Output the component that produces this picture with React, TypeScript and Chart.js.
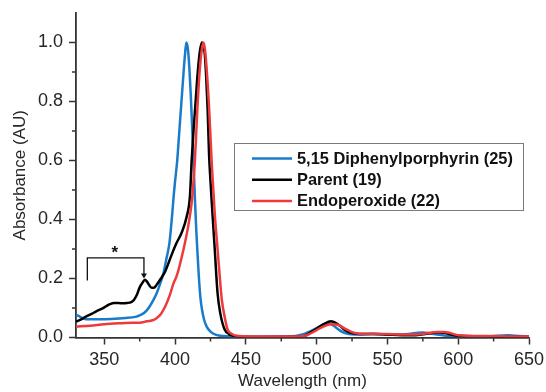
import React, { useEffect, useRef } from "react";
import { Chart, registerables } from "chart.js";

Chart.register(...registerables);

// ---- Data ----
const seriesNames = ["5,15 Diphenylporphyrin (25)", "Parent (19)", "Endoperoxide (22)"];

const dppX = [330, 333, 337, 345, 355, 365, 372, 375, 378, 380, 382, 385, 387, 390, 392, 394, 396, 398, 399, 400, 401.5, 403, 404.5, 406, 407, 408, 409, 410, 411, 412, 413, 414, 415, 416, 417, 418, 419, 420.5, 422.3, 425, 429, 435, 440, 450, 480, 490, 495, 500, 505, 508, 512, 516, 520, 530, 540, 550, 560, 570, 575, 580, 585, 590, 600, 620, 635, 640, 650];
const dppY = [0.077, 0.07, 0.062, 0.062, 0.063, 0.066, 0.07, 0.075, 0.083, 0.092, 0.105, 0.13, 0.15, 0.19, 0.222, 0.27, 0.32, 0.42, 0.48, 0.53, 0.6, 0.7, 0.8, 0.9, 0.96, 1.0, 0.98, 0.92, 0.83, 0.72, 0.6, 0.47, 0.36, 0.27, 0.19, 0.13, 0.095, 0.06, 0.037, 0.02, 0.009, 0.005, 0.004, 0.002, 0.003, 0.01, 0.02, 0.032, 0.045, 0.049, 0.04, 0.025, 0.015, 0.01, 0.012, 0.01, 0.01, 0.015, 0.017, 0.014, 0.01, 0.007, 0.005, 0.004, 0.008, 0.006, 0.003];

const parentX = [330, 334, 337, 341, 344, 348, 351, 354, 357, 360, 363, 366, 369, 371, 373, 375, 377, 378.7, 380, 383.4, 385, 387, 390, 393, 397.6, 401, 404.6, 408.2, 410.5, 411.7, 413, 414.5, 416, 417.5, 419, 420, 421, 422, 423, 424, 425, 426, 428, 430, 432, 435, 438, 440, 445, 460, 490, 495, 500, 505, 510, 515, 520, 525, 530, 540, 550, 560, 570, 580, 585, 590, 595, 600, 620, 650];
const parentY = [0.054, 0.062, 0.071, 0.08, 0.088, 0.097, 0.105, 0.113, 0.117, 0.117, 0.116, 0.117, 0.12, 0.128, 0.145, 0.17, 0.186, 0.196, 0.19, 0.169, 0.169, 0.179, 0.2, 0.224, 0.281, 0.32, 0.355, 0.41, 0.48, 0.6, 0.7, 0.8, 0.9, 0.97, 1.0, 0.99, 0.96, 0.88, 0.77, 0.62, 0.53, 0.45, 0.3, 0.15, 0.08, 0.027, 0.012, 0.007, 0.003, 0.002, 0.003, 0.015, 0.03, 0.045, 0.055, 0.045, 0.025, 0.015, 0.012, 0.012, 0.01, 0.008, 0.008, 0.014, 0.017, 0.016, 0.01, 0.006, 0.004, 0.002];

const endoX = [330, 340, 350, 360, 370, 375, 380, 385, 388, 390, 393, 396, 399, 401, 403, 406, 409, 411, 412, 413, 414, 415, 416, 417, 418, 419, 420, 421, 422, 424, 426, 428, 430, 432, 433, 435, 437, 440, 445, 460, 490, 495, 500, 505, 510, 515, 520, 525, 530, 540, 550, 560, 570, 580, 585, 590, 595, 600, 620, 650];
const endoY = [0.037, 0.04, 0.045, 0.048, 0.05, 0.05, 0.055, 0.06, 0.07, 0.08, 0.105, 0.14, 0.185, 0.207, 0.24, 0.3, 0.37, 0.43, 0.47, 0.53, 0.6, 0.7, 0.8, 0.88, 0.94, 0.98, 1.0, 0.98, 0.93, 0.78, 0.58, 0.42, 0.3, 0.18, 0.128, 0.07, 0.028, 0.012, 0.005, 0.003, 0.004, 0.012, 0.025, 0.038, 0.045, 0.043, 0.03, 0.018, 0.013, 0.013, 0.012, 0.01, 0.01, 0.016, 0.019, 0.019, 0.014, 0.008, 0.005, 0.003];

const xTicks = [350, 400, 450, 500, 550, 600, 650];
const xMinorTicks = [375, 425, 475, 525, 575, 625];
const yTicks = [0, 0.2, 0.4, 0.6, 0.8, 1.0];
const yMinorTicks = [0.1, 0.3, 0.5, 0.7, 0.9];

// annotation (bracket) anchored in data space
const bracketX = [338, 378];
const bracketTopY = 0.27;
const bracketLeftBottomY = 0.193;
const bracketArrowY = 0.2;
const asteriskPos = [357.5, 0.3];

const colors = ["#1b7bcb", "#000000", "#ee3a3a"];
const FONT = "'Liberation Sans', Arial, Helvetica, sans-serif";
const AXIS_COLOR = "#333333";

function toPoints(xs: number[], ys: number[]) {
  return xs.map((x, i) => ({ x, y: ys[i] }));
}

const extrasPlugin = {
  id: "extras",
  afterDatasetsDraw(chart: any) {
    const { ctx } = chart;
    const xs = chart.scales.x;
    const ys = chart.scales.y;
    ctx.save();
    // bracket
    const xl = xs.getPixelForValue(bracketX[0]);
    const xr = xs.getPixelForValue(bracketX[1]);
    const yt = ys.getPixelForValue(bracketTopY);
    const ylb = ys.getPixelForValue(bracketLeftBottomY);
    const ya = ys.getPixelForValue(bracketArrowY);
    ctx.strokeStyle = "#111";
    ctx.lineWidth = 1.3;
    ctx.beginPath();
    ctx.moveTo(xl, ylb);
    ctx.lineTo(xl, yt);
    ctx.lineTo(xr, yt);
    ctx.lineTo(xr, ya - 3);
    ctx.stroke();
    ctx.fillStyle = "#111";
    ctx.beginPath();
    ctx.moveTo(xr - 3, ya - 5);
    ctx.lineTo(xr + 3, ya - 5);
    ctx.lineTo(xr, ya);
    ctx.closePath();
    ctx.fill();
    // asterisk
    ctx.font = `bold 17px ${FONT}`;
    ctx.textAlign = "center";
    ctx.textBaseline = "middle";
    ctx.fillText("*", xs.getPixelForValue(asteriskPos[0]), ys.getPixelForValue(asteriskPos[1]) + 4);

    // minor ticks
    ctx.strokeStyle = AXIS_COLOR;
    ctx.lineWidth = 1.5;
    const area = chart.chartArea;
    ctx.beginPath();
    xMinorTicks.forEach((v) => {
      const px = xs.getPixelForValue(v);
      ctx.moveTo(px, area.bottom);
      ctx.lineTo(px, area.bottom + 4);
    });
    yMinorTicks.forEach((v) => {
      const py = ys.getPixelForValue(v);
      ctx.moveTo(area.left, py);
      ctx.lineTo(area.left - 4, py);
    });
    ctx.stroke();
    ctx.restore();
  },
  afterDraw(chart: any) {
    const { ctx } = chart;
    const area = chart.chartArea;
    ctx.save();
    const bx = area.left + 158;
    const by = area.top + 130;
    const bw = 289;
    const bh = 67;
    ctx.fillStyle = "#ffffff";
    ctx.fillRect(bx, by, bw, bh);
    ctx.strokeStyle = "#7a7a7a";
    ctx.lineWidth = 1;
    ctx.strokeRect(bx + 0.5, by + 0.5, bw, bh);
    ctx.font = `bold 16.4px ${FONT}`;
    ctx.textAlign = "left";
    ctx.textBaseline = "middle";
    seriesNames.forEach((name, i) => {
      const cy = by + 15.5 + i * 21.2;
      ctx.strokeStyle = colors[i];
      ctx.lineWidth = 2.5;
      ctx.beginPath();
      ctx.moveTo(bx + 18, cy);
      ctx.lineTo(bx + 58, cy);
      ctx.stroke();
      ctx.fillStyle = "#111";
      ctx.fillText(name, bx + 63, cy + 1);
    });
    ctx.restore();
  },
};

export default function App() {
  const canvasRef = useRef<HTMLCanvasElement | null>(null);

  useEffect(() => {
    document.body.style.margin = "0";
    const canvas = canvasRef.current;
    if (!canvas) return;
    const datasets = [
      { label: seriesNames[0], data: toPoints(dppX, dppY), borderColor: colors[0], order: 2 },
      { label: seriesNames[1], data: toPoints(parentX, parentY), borderColor: colors[1], order: 1 },
      { label: seriesNames[2], data: toPoints(endoX, endoY), borderColor: colors[2], order: 0 },
    ].map((d) => ({
      ...d,
      borderWidth: 2.5,
      pointRadius: 0,
      fill: false,
      cubicInterpolationMode: "monotone" as const,
    }));

    const chart = new Chart(canvas, {
      type: "line",
      data: { datasets },
      plugins: [extrasPlugin],
      options: {
        responsive: false,
        animation: false,
        layout: { padding: { left: 0, right: 17, top: 13, bottom: 0 } },
        plugins: { legend: { display: false }, tooltip: { enabled: false } },
        scales: {
          x: {
            type: "linear",
            min: 330,
            max: 650,
            afterBuildTicks: (scale: any) => {
              scale.ticks = xTicks.map((v) => ({ value: v }));
            },
            afterFit: (scale: any) => {
              scale.height = 54.5;
              scale.paddingLeft = 0;
              scale.paddingRight = 0;
            },
            ticks: {
              font: { family: FONT, size: 18 },
              color: "#262626",
              padding: 5,
              maxRotation: 0,
              autoSkip: false,
            },
            grid: { drawOnChartArea: false, tickLength: 7, tickWidth: 1.5, tickColor: AXIS_COLOR },
            border: { color: AXIS_COLOR, width: 1.8 },
            title: {
              display: true,
              text: "Wavelength (nm)",
              font: { family: FONT, size: 17 },
              color: "#262626",
              padding: { top: 0, bottom: 0 },
            },
          },
          y: {
            type: "linear",
            min: 0,
            max: 1.1,
            afterBuildTicks: (scale: any) => {
              scale.ticks = yTicks.map((v) => ({ value: v }));
            },
            afterFit: (scale: any) => {
              scale.width = 76;
              scale.paddingTop = 0;
              scale.paddingBottom = 0;
            },
            ticks: {
              font: { family: FONT, size: 18 },
              color: "#262626",
              padding: 6,
              callback: (v: any) => Number(v).toFixed(1),
            },
            grid: { drawOnChartArea: false, tickLength: 7, tickWidth: 1.5, tickColor: AXIS_COLOR },
            border: { color: AXIS_COLOR, width: 1.8 },
            title: {
              display: true,
              text: "Absorbance (AU)",
              font: { family: FONT, size: 17 },
              color: "#262626",
              padding: { top: 10, bottom: 0 },
            },
          },
        },
      },
    });
    return () => chart.destroy();
  }, []);

  return (
    <div style={{ width: 546, height: 392 }}>
      <canvas ref={canvasRef} width={546} height={392} style={{ display: "block" }} />
    </div>
  );
}
